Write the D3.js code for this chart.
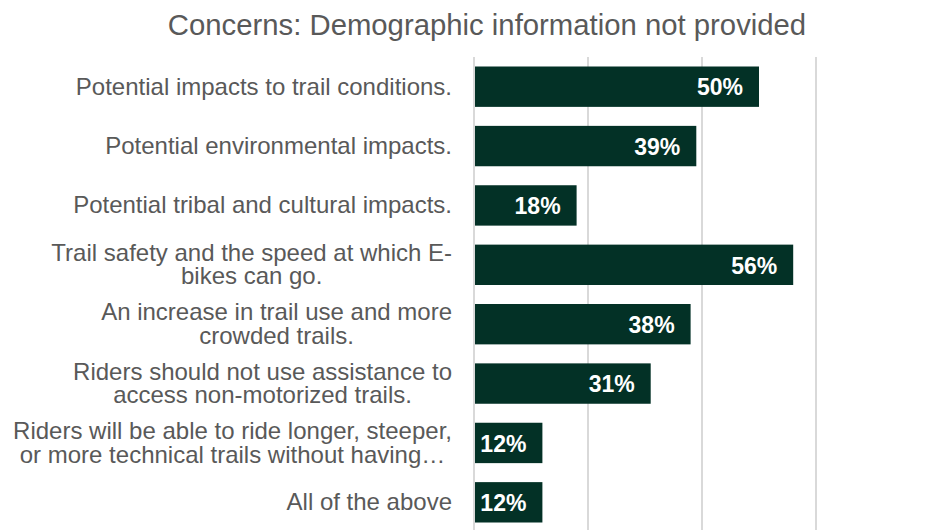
<!DOCTYPE html>
<html>
<head>
<meta charset="utf-8">
<script src="https://cdn.jsdelivr.net/npm/d3@7"></script>
<style>
  html, body { margin: 0; padding: 0; background: #ffffff; }
  svg { display: block; font-family: "Liberation Sans", Arial, sans-serif; }
</style>
</head>
<body>
<svg id="chart" width="925" height="530"></svg>
<script>
// Survey responses: concerns raised by respondents who gave no demographic info
const categories = [
  ["Potential impacts to trail conditions."],
  ["Potential environmental impacts."],
  ["Potential tribal and cultural impacts."],
  ["Trail safety and the speed at which E-", "bikes can go."],
  ["An increase in trail use and more", "crowded trails."],
  ["Riders should not use assistance to", "access non-motorized trails."],
  ["Riders will be able to ride longer, steeper,", "or more technical trails without having…"],
  ["All of the above"]
];
const shares = [0.50, 0.39, 0.18, 0.56, 0.38, 0.31, 0.12, 0.12];
const gridTicks = [0, 0.2, 0.4, 0.6, 0.8];
const title = "Concerns: Demographic information not provided";

const svg = d3.select("#chart");
const plotLeft = 474, plotTop = 57, plotBottom = 532;
const labelRight = 452;

const x = d3.scaleLinear().domain([0, 0.8]).range([plotLeft, plotLeft + 0.8 * 570]);
const y = d3.scaleBand()
  .domain(d3.range(categories.length))
  .range([plotTop, plotBottom])
  .paddingInner(0.32)
  .paddingOuter(0.16);

// Title
svg.append("text")
  .attr("x", 487)
  .attr("y", 35)
  .attr("text-anchor", "middle")
  .attr("fill", "#595959")
  .attr("font-size", 29.3)
  .text(title);

// Vertical gridlines
svg.append("g")
  .selectAll("line")
  .data(gridTicks)
  .join("line")
  .attr("x1", d => x(d)).attr("x2", d => x(d))
  .attr("y1", plotTop).attr("y2", 530)
  .attr("stroke", "#d9d9d9")
  .attr("stroke-width", 2);

// Bars
svg.append("g")
  .selectAll("rect")
  .data(shares)
  .join("rect")
  .attr("x", x(0) + 1)
  .attr("y", (d, i) => y(i))
  .attr("width", d => x(d) - x(0) - 1)
  .attr("height", y.bandwidth())
  .attr("fill", "#033126");

// Value labels inside bar ends
svg.append("g")
  .selectAll("text")
  .data(shares)
  .join("text")
  .attr("x", d => x(d) - 16)
  .attr("y", (d, i) => y(i) + y.bandwidth() / 2)
  .attr("dy", "0.38em")
  .attr("text-anchor", "end")
  .attr("fill", "#ffffff")
  .attr("font-size", 23)
  .attr("font-weight", "bold")
  .text(d => d3.format(".0%")(d));

// Category labels: each block sits flush against the axis side,
// and its lines are centred on one another within the block.
const labSize = 24, lineH = 23.5;
const lab = svg.append("g")
  .selectAll("text")
  .data(categories)
  .join("text")
  .attr("text-anchor", "middle")
  .attr("fill", "#595959")
  .attr("font-size", labSize)
  .attr("y", (d, i) => y(i) + y.bandwidth() / 2);
const spans = lab.selectAll("tspan")
  .data(d => d.map((t, j) => ({ t, j, n: d.length })))
  .join("tspan")
  .attr("dy", d => d.j === 0 ? `${0.33 * labSize - (d.n - 1) * lineH / 2}px` : `${lineH}px`)
  .text(d => d.t);
lab.each(function () {
  const ts = d3.select(this).selectAll("tspan");
  const widest = d3.max(ts.nodes(), n => n.getComputedTextLength());
  ts.attr("x", labelRight - widest / 2);
});
</script>
</body>
</html>
